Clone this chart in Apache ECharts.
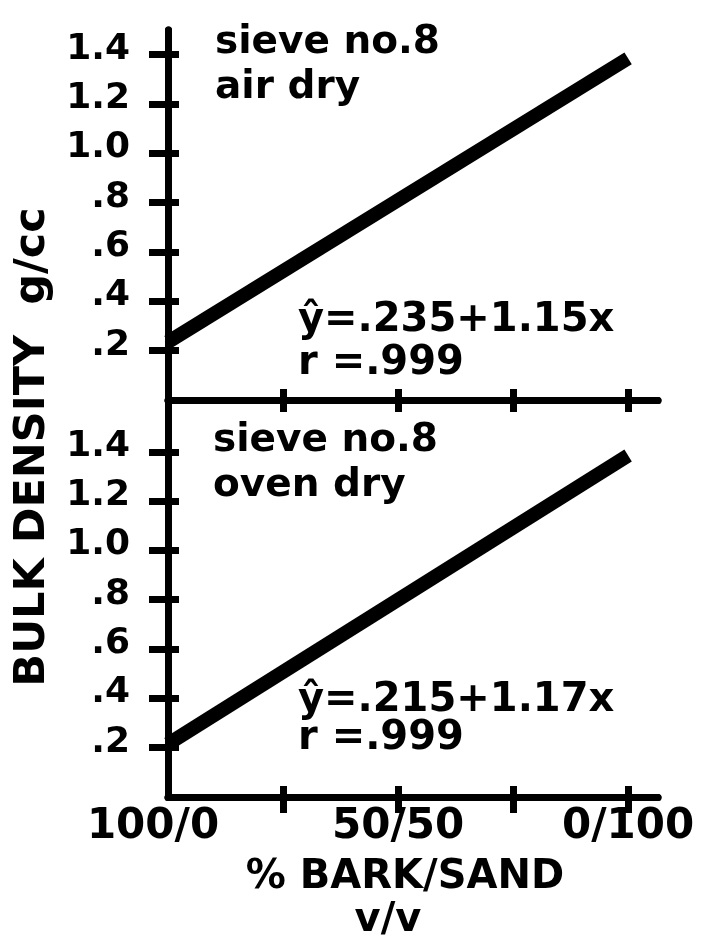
<!DOCTYPE html>
<html>
<head>
<meta charset="utf-8">
<script src="https://cdn.jsdelivr.net/npm/echarts@6/dist/echarts.min.js"></script>
<style>
  html, body { margin: 0; padding: 0; background: #fff; }
  #main { width: 716px; height: 939px; }
</style>
</head>
<body>
<div id="main"></div>
<script>
'use strict';
// x = % sand in the mix (100/0 bark/sand on the left)
var sandPct = [0, 100];
// fitted bulk density lines, g/cc
var airDry = [0.235, 1.385];   // y = .235 + 1.15x
var ovenDry = [0.215, 1.385];  // y = .215 + 1.17x

var yTickValues = [0.2, 0.4, 0.6, 0.8, 1.0, 1.2, 1.4];
var xTickValues = [25, 50, 75, 100];
var xLabelValues = [0, 50, 100];
var xLabelText = ['100/0', '50/50', '0/100'];

var FONT = 'DejaVu Sans';
var INK = '#000';

function pairs(xs, ys) {
    return xs.map(function(x, i) { return [x, ys[i]]; });
}

function yLabel(v) {
    return v < 1 ? '.' + Math.round(v * 10) : v.toFixed(1);
}

function xLabel(v) {
    var i = xLabelValues.indexOf(v);
    if (i < 0) return '';
    // first label sits a bit left of the corner
    return i === 0 ? '{first|' + xLabelText[i] + '}' : xLabelText[i];
}

// every axis is drawn twice so ticks cross the line (one inside, one outside)
function xAxes(grid, showLabels, inLen, outLen) {
    var base = {
        type: 'value', gridIndex: grid, min: 0, max: 106.5,
        position: 'bottom', splitLine: { show: false },
        axisLine: { onZero: false, lineStyle: { color: INK, width: 7 } }
    };
    var a = Object.assign({}, base, {
        axisTick: { inside: true, length: inLen, customValues: xTickValues,
            lineStyle: { color: INK, width: 7 } },
        axisLabel: { show: false }
    });
    var b = Object.assign({}, base, {
        axisTick: { inside: false, length: outLen, customValues: xTickValues,
            lineStyle: { color: INK, width: 7 } },
        axisLabel: showLabels ? {
            customValues: xLabelValues, formatter: xLabel, margin: 9,
            color: INK, fontFamily: FONT, fontWeight: 'bold', fontSize: 42,
            verticalAlign: 'top',
            rich: { first: { fontFamily: FONT, fontWeight: 'bold', fontSize: 42,
                color: INK, padding: [0, 30, 0, 0] } }
        } : { show: false }
    });
    return [a, b];
}

function yAxes(grid, max) {
    var base = {
        type: 'value', gridIndex: grid, min: 0, max: max,
        position: 'left', splitLine: { show: false },
        axisLine: { onZero: false, lineStyle: { color: INK, width: 7 } }
    };
    var a = Object.assign({}, base, {
        axisTick: { inside: true, length: 11, customValues: yTickValues,
            lineStyle: { color: INK, width: 7 } },
        axisLabel: { show: false }
    });
    var b = Object.assign({}, base, {
        axisTick: { inside: false, length: 19, customValues: yTickValues,
            lineStyle: { color: INK, width: 7 } },
        axisLabel: {
            customValues: yTickValues, formatter: yLabel, margin: 38,
            color: INK, fontFamily: FONT, fontWeight: 'bold', fontSize: 36,
            verticalAlign: 'bottom', lineHeight: 11
        }
    });
    return [a, b];
}

function note(text, x, y, size, align) {
    return {
        type: 'text', x: x, y: y, silent: true,
        style: { text: text, fill: INK, font: 'bold ' + size + 'px "' + FONT + '"',
            align: align || 'left', verticalAlign: 'middle' }
    };
}

var chart = echarts.init(document.getElementById('main'));

var option = {
    animation: false,
    backgroundColor: '#fff',
    grid: [
        { left: 168, top: 30, width: 490, height: 370 },
        { left: 168, top: 400, width: 490, height: 397 }
    ],
    xAxis: xAxes(0, false, 11, 12).concat(xAxes(1, true, 11, 16)),
    yAxis: yAxes(0, 1.5).concat(yAxes(1, 1.61)),
    series: [
        {
            type: 'line', xAxisIndex: 0, yAxisIndex: 0,
            data: pairs(sandPct, airDry), showSymbol: false,
            lineStyle: { color: INK, width: 14 }
        },
        {
            type: 'line', xAxisIndex: 2, yAxisIndex: 2,
            data: pairs(sandPct, ovenDry), showSymbol: false,
            lineStyle: { color: INK, width: 14 }
        }
    ],
    graphic: [
        note('sieve no.8', 215, 43, 39),
        note('air dry', 215, 88, 39),
        note('ŷ=.235+1.15x', 298, 321, 40),
        note('r =.999', 298, 364, 40),
        note('sieve no.8', 213, 441, 39),
        note('oven dry', 213, 486, 39),
        note('ŷ=.215+1.17x', 298, 701, 40),
        note('r =.999', 298, 739, 40),
        note('% BARK/SAND', 405, 878, 40, 'center'),
        note('v/v', 388, 921, 40, 'center'),
        {
            type: 'text', x: 33, y: 447, rotation: Math.PI / 2, silent: true,
            style: { text: 'BULK DENSITY  g/cc', fill: INK,
                font: 'bold 43px "' + FONT + '"', align: 'center', verticalAlign: 'middle' }
        }
    ]
};

chart.setOption(option);
window.onresize = function() { chart.resize(); };
</script>
</body>
</html>
